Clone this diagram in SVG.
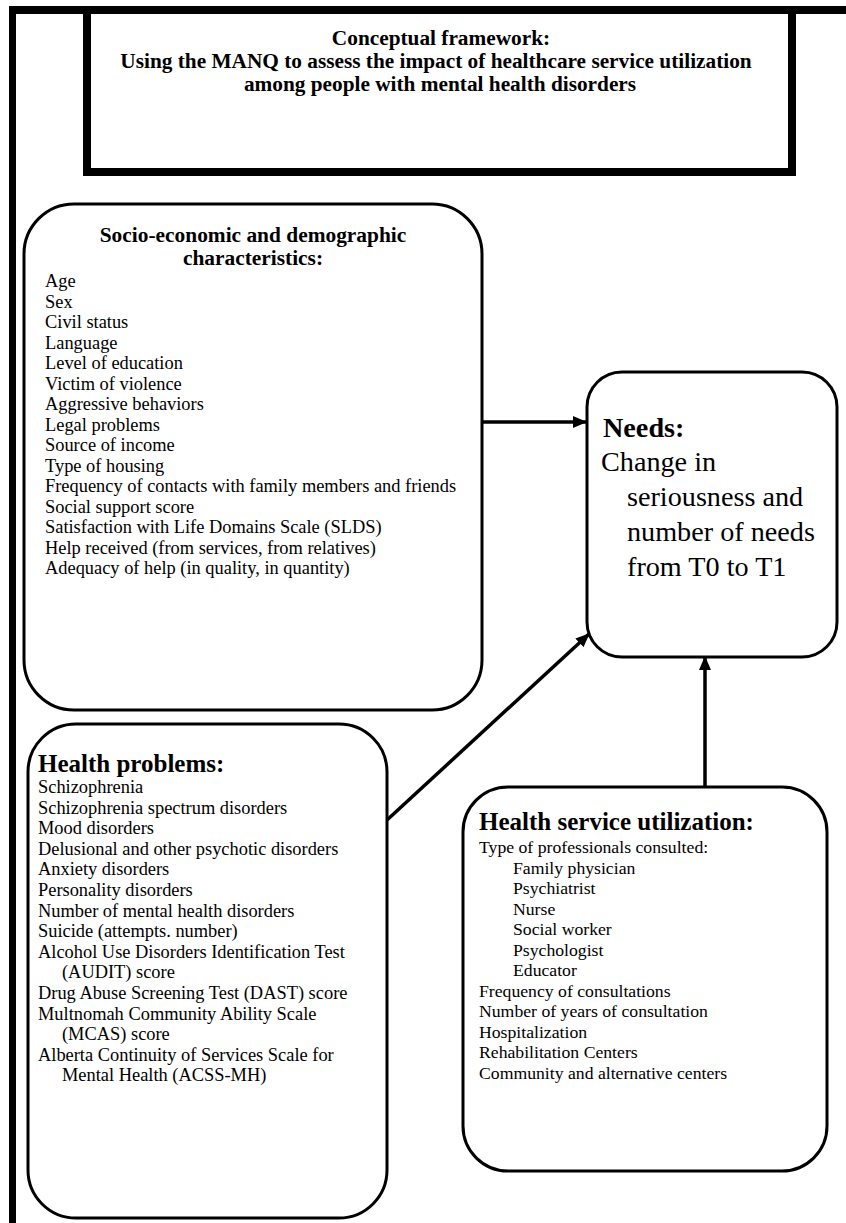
<svg xmlns="http://www.w3.org/2000/svg" width="846" height="1223" viewBox="0 0 846 1223">
<defs>
<style>
.box{fill:#fff;stroke:#000;stroke-width:3}
.t{font-family:"Liberation Serif","Times New Roman",serif;fill:#000}
.b{font-weight:bold}
.s17{font-size:18.4px}
.conn{stroke:#000;stroke-width:3.5;fill:none}
</style>
<marker id="ah" markerUnits="userSpaceOnUse" markerWidth="14" markerHeight="12" viewBox="0 0 14 12" refX="13" refY="6" orient="auto">
<path d="M0,0 L14,6 L0,12 Z" fill="#000"/>
</marker>
</defs>
<rect width="846" height="1223" fill="#fff"/>
<g id="frame">
<line x1="9" y1="10" x2="846" y2="10" stroke="#000" stroke-width="8"/>
<line x1="12.5" y1="6" x2="12.5" y2="1223" stroke="#000" stroke-width="7"/>
</g>
<g id="title">
<rect x="87" y="10" width="705" height="162" fill="#fff" stroke="#000" stroke-width="8"/>
<text class="t b" font-size="21.3" text-anchor="middle" x="441" y="45">Conceptual framework:</text>
<text class="t b" font-size="21.3" text-anchor="middle" x="436" y="68">Using the MANQ to assess the impact of healthcare service utilization</text>
<text class="t b" font-size="21.3" text-anchor="middle" x="440" y="91">among people with mental health disorders</text>
</g>
<g id="connectors">
<line class="conn" x1="482" y1="422" x2="586" y2="422" marker-end="url(#ah)"/>
<line class="conn" x1="387" y1="820" x2="589" y2="634" marker-end="url(#ah)"/>
<line class="conn" x1="705" y1="787" x2="705" y2="657" marker-end="url(#ah)"/>
</g>
<g id="socio">
<rect class="box" x="24" y="204" width="458" height="506" rx="50"/>
<text class="t b" font-size="21.4" text-anchor="middle" x="253" y="242">Socio-economic and demographic</text>
<text class="t b" font-size="21.4" text-anchor="middle" x="253" y="265">characteristics:</text>
<g class="t s17">
<text x="45" y="287">Age</text>
<text x="45" y="307.5">Sex</text>
<text x="45" y="328">Civil status</text>
<text x="45" y="348.5">Language</text>
<text x="45" y="369">Level of education</text>
<text x="45" y="389.5">Victim of violence</text>
<text x="45" y="410">Aggressive behaviors</text>
<text x="45" y="430.5">Legal problems</text>
<text x="45" y="451">Source of income</text>
<text x="45" y="471.5">Type of housing</text>
<text x="45" y="492">Frequency of contacts with family members and friends</text>
<text x="45" y="512.5">Social support score</text>
<text x="45" y="533">Satisfaction with Life Domains Scale (SLDS)</text>
<text x="45" y="553.5">Help received (from services, from relatives)</text>
<text x="45" y="574">Adequacy of help (in quality, in quantity)</text>
</g>
</g>
<g id="needs">
<rect class="box" x="587" y="372" width="250" height="285" rx="35"/>
<text class="t b" font-size="28.2" x="603" y="437">Needs:</text>
<g class="t" font-size="28.2">
<text x="601" y="471">Change in</text>
<text x="627" y="506">seriousness and</text>
<text x="627" y="541">number of needs</text>
<text x="627" y="576">from T0 to T1</text>
</g>
</g>
<g id="health-problems">
<rect class="box" x="28" y="724" width="359" height="494" rx="48"/>
<text class="t b" font-size="25" x="38" y="772">Health problems:</text>
<g class="t s17">
<text x="38" y="793">Schizophrenia</text>
<text x="38" y="813.6">Schizophrenia spectrum disorders</text>
<text x="38" y="834.2">Mood disorders</text>
<text x="38" y="854.8">Delusional and other psychotic disorders</text>
<text x="38" y="875.4">Anxiety disorders</text>
<text x="38" y="896">Personality disorders</text>
<text x="38" y="916.6">Number of mental health disorders</text>
<text x="38" y="937.2">Suicide (attempts. number)</text>
<text x="38" y="957.8">Alcohol Use Disorders Identification Test</text>
<text x="62" y="978.4">(AUDIT) score</text>
<text x="38" y="999">Drug Abuse Screening Test (DAST) score</text>
<text x="38" y="1019.6">Multnomah Community Ability Scale</text>
<text x="62" y="1040.2">(MCAS) score</text>
<text x="38" y="1060.8">Alberta Continuity of Services Scale for</text>
<text x="62" y="1081.4">Mental Health (ACSS-MH)</text>
</g>
</g>
<g id="health-service">
<rect class="box" x="463" y="787" width="364" height="384" rx="45"/>
<text class="t b" font-size="25" x="479" y="830">Health service utilization:</text>
<g class="t" font-size="17.7">
<text x="479" y="853">Type of professionals consulted:</text>
<text x="513" y="873.5">Family physician</text>
<text x="513" y="894">Psychiatrist</text>
<text x="513" y="914.5">Nurse</text>
<text x="513" y="935">Social worker</text>
<text x="513" y="955.5">Psychologist</text>
<text x="513" y="976">Educator</text>
<text x="479" y="996.5">Frequency of consultations</text>
<text x="479" y="1017">Number of years of consultation</text>
<text x="479" y="1037.5">Hospitalization</text>
<text x="479" y="1058">Rehabilitation Centers</text>
<text x="479" y="1078.5">Community and alternative centers</text>
</g>
</g>
</svg>
